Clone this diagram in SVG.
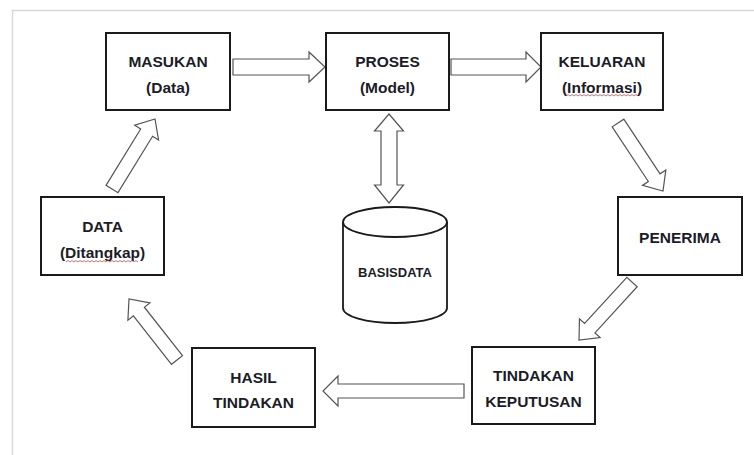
<svg xmlns="http://www.w3.org/2000/svg" width="754" height="455" viewBox="0 0 754 455">
  <style>
    .box { fill: #ffffff; stroke: #1a1a1a; stroke-width: 2; }
    .arrow { fill: #ffffff; stroke: #555555; stroke-width: 1.2; stroke-linejoin: miter; }
    .lbl { font-family: "Liberation Sans", Arial, sans-serif; font-weight: bold; font-size: 15.5px; fill: #1c1c28; text-anchor: middle; }
    .small { font-size: 13px; }
    .squiggle { fill: none; stroke: #e03a3a; stroke-width: 0.9; opacity: 0.85; }
    .cyl { fill: #ffffff; stroke: #1a1a1a; stroke-width: 1.8; }
  </style>
  <rect x="0" y="0" width="754" height="455" fill="#ffffff"/>
  <rect x="12.5" y="10.5" width="800" height="500" fill="none" stroke="#d8d8d8" stroke-width="1.5"/>

  <g id="connectors">
    <polygon class="arrow" points="233,59 309,59 309,52 325,67 309,82 309,75 233,75"/>
    <polygon class="arrow" points="451,59 526,59 526,52 541,67 526,82 526,75 451,75"/>
    <polygon class="arrow" points="464,384 338,384 338,376 323,391 338,406 338,398 464,398"/>
    <polygon class="arrow" points="389,114 403.5,131 397,131 397,185 403.5,185 389,203 374.5,185 381,185 381,131 374.5,131"/>
    <polygon class="arrow" points="117.96,192.66 152.59,136.29 158.56,139.96 155,119 134.70,125.30 140.67,128.97 106.04,185.34"/>
    <polygon class="arrow" points="612.16,126.86 648.33,181.52 642.49,185.39 663,191 665.85,169.93 660.01,173.80 623.84,119.14"/>
    <polygon class="arrow" points="626.83,277.28 584.62,323.47 579.46,318.75 579,340 600.12,337.63 594.96,332.91 637.17,286.72"/>
    <polygon class="arrow" points="182.50,355.67 144.39,307.24 149.89,302.91 129,299 127.89,320.23 133.39,315.90 171.50,364.33"/>
  </g>

  <g id="masukan">
    <rect class="box" x="106" y="33" width="124" height="77"/>
    <text class="lbl" x="168" y="67">MASUKAN</text>
    <text class="lbl" x="168" y="93">(Data)</text>
  </g>

  <g id="proses">
    <rect class="box" x="326" y="33" width="123" height="77"/>
    <text class="lbl" x="387.5" y="67">PROSES</text>
    <text class="lbl" x="387.5" y="93">(Model)</text>
  </g>

  <g id="keluaran">
    <rect class="box" x="541" y="33" width="122" height="77"/>
    <text class="lbl" x="602" y="67">KELUARAN</text>
    <text class="lbl" x="602" y="93">(Informasi)</text>
    <path class="squiggle" d="M566,96 l2,-1.5 l2,1.5 l2,-1.5 l2,1.5 l2,-1.5 l2,1.5 l2,-1.5 l2,1.5 l2,-1.5 l2,1.5 l2,-1.5 l2,1.5 l2,-1.5 l2,1.5 l2,-1.5 l2,1.5 l2,-1.5 l2,1.5 l2,-1.5 l2,1.5 l2,-1.5 l2,1.5 l2,-1.5 l2,1.5 l2,-1.5 l2,1.5 l2,-1.5 l2,1.5 l2,-1.5 l2,1.5 l2,-1.5 l2,1.5 l2,-1.5 l2,1.5 l2,-1.5 l2,1.5"/>
  </g>

  <g id="data">
    <rect class="box" x="41" y="197" width="123" height="78"/>
    <text class="lbl" x="102.5" y="232">DATA</text>
    <text class="lbl" x="102.5" y="258">(Ditangkap)</text>
    <path class="squiggle" d="M66,262 l2,-1.5 l2,1.5 l2,-1.5 l2,1.5 l2,-1.5 l2,1.5 l2,-1.5 l2,1.5 l2,-1.5 l2,1.5 l2,-1.5 l2,1.5 l2,-1.5 l2,1.5 l2,-1.5 l2,1.5 l2,-1.5 l2,1.5 l2,-1.5 l2,1.5 l2,-1.5 l2,1.5 l2,-1.5 l2,1.5 l2,-1.5 l2,1.5 l2,-1.5 l2,1.5 l2,-1.5 l2,1.5 l2,-1.5 l2,1.5 l2,-1.5 l2,1.5 l2,-1.5 l2,1.5"/>
  </g>

  <g id="basisdata">
    <path class="cyl" d="M343,222 L343,308 A52,15 0 0 0 447,308 L447,222"/>
    <ellipse class="cyl" cx="395" cy="222" rx="52" ry="15"/>
    <text class="lbl small" x="395" y="277">BASISDATA</text>
  </g>

  <g id="penerima">
    <rect class="box" x="618" y="197" width="124" height="78"/>
    <text class="lbl" x="680" y="243">PENERIMA</text>
  </g>

  <g id="tindakan-keputusan">
    <rect class="box" x="472" y="347" width="123" height="77"/>
    <text class="lbl" x="533.5" y="381">TINDAKAN</text>
    <text class="lbl" x="533.5" y="407">KEPUTUSAN</text>
  </g>

  <g id="hasil-tindakan">
    <rect class="box" x="192" y="348" width="123" height="79"/>
    <text class="lbl" x="253.5" y="383">HASIL</text>
    <text class="lbl" x="253.5" y="408">TINDAKAN</text>
  </g>
</svg>
